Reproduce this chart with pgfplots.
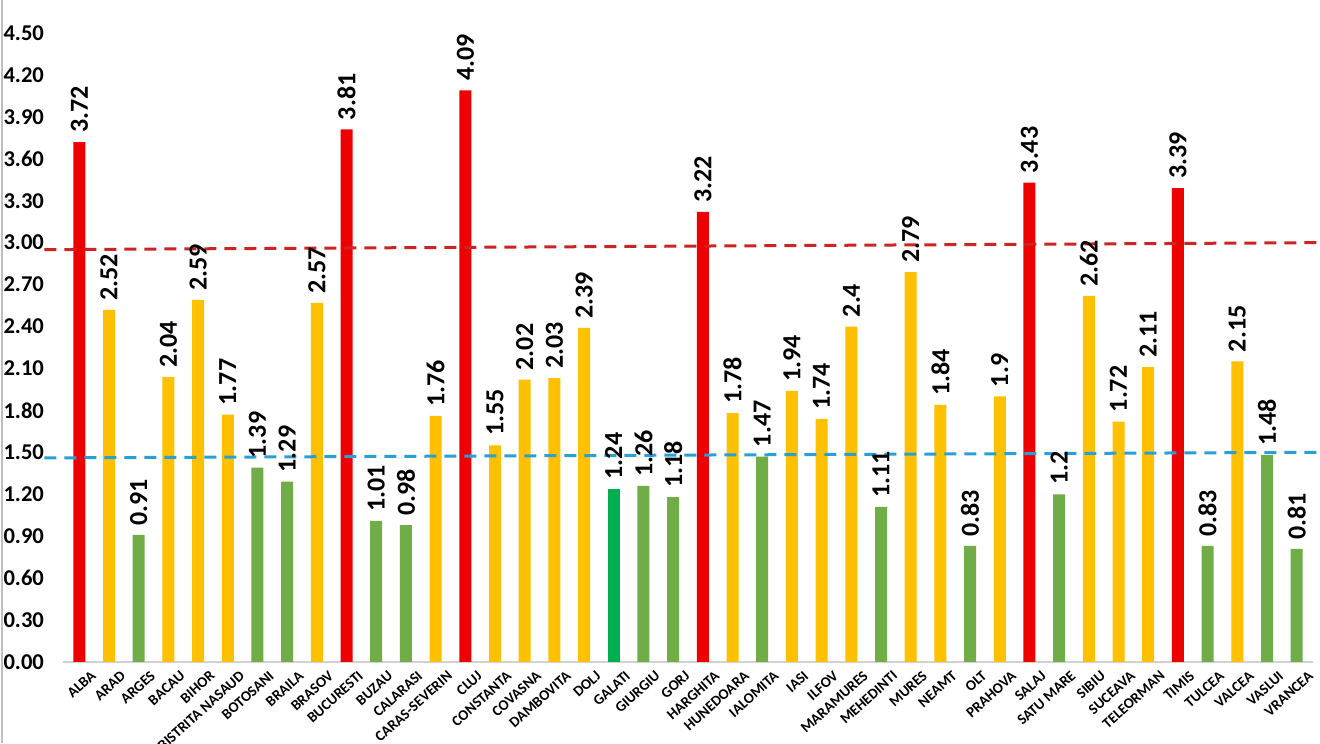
\documentclass[border=0pt]{standalone}
\usepackage{pgfplots}
\pgfplotsset{compat=1.18}
\usepackage{fontspec}
\setmainfont{Carlito}
\definecolor{cred}{RGB}{238,0,0}
\definecolor{cyel}{RGB}{255,192,0}
\definecolor{cgrn}{RGB}{112,173,71}
\definecolor{cdgrn}{RGB}{0,176,80}
\definecolor{dred}{RGB}{205,35,35}
\definecolor{dblue}{RGB}{40,160,215}
\begin{document}
\begin{tikzpicture}
\useasboundingbox (0,0) rectangle (660pt,371.5pt);
\clip (0,0) rectangle (660pt,371.5pt);
\fill[white] (0,0) rectangle (660pt,371.5pt);
\draw[gray!50, line width=0.6pt] (1pt,0) -- (1pt,371.5pt);
\begin{axis}[
  at={(31.5pt,40.5pt)}, anchor=south west,
  scale only axis, width=625pt, height=314.5pt,
  xmin=-0.55, xmax=41.55, ymin=0, ymax=4.5,
  clip=false,
  axis lines*=left,
  y axis line style={draw=none},
  x axis line style={draw=gray!35, line width=0.8pt, -},
  major tick length=0pt,
  ytick={0,0.3,...,4.51},
  /pgf/number format/.cd, fixed, fixed zerofill, precision=2, assume math mode=true, /pgfplots/.cd,
  yticklabel style={font=\bfseries\fontsize{11.3}{12}\selectfont, anchor=east, xshift=-6pt},
  xtick={0,...,41},
  xticklabels={ALBA,ARAD,ARGES,BACAU,BIHOR,BISTRITA NASAUD,BOTOSANI,BRAILA,BRASOV,BUCURESTI,BUZAU,CALARASI,CARAS-SEVERIN,CLUJ,CONSTANTA,COVASNA,DAMBOVITA,DOLJ,GALATI,GIURGIU,GORJ,HARGHITA,HUNEDOARA,IALOMITA,IASI,ILFOV,MARAMURES,MEHEDINTI,MURES,NEAMT,OLT,PRAHOVA,SALAJ,SATU MARE,SIBIU,SUCEAVA,TELEORMAN,TIMIS,TULCEA,VALCEA,VASLUI,VRANCEA},
  xticklabel style={font=\bfseries\fontsize{7.4}{8}\selectfont, rotate=42, anchor=north east, inner sep=0.5pt, xshift=2pt, yshift=-6pt},
  ybar, bar width=6pt, bar shift=0pt,
  nodes near coords={\pgfmathprintnumber[fixed, precision=2, fixed zerofill=false, assume math mode=true]{\pgfplotspointmeta}},
  every node near coord/.append style={font=\bfseries\fontsize{13}{14}\selectfont, rotate=90, anchor=west, inner sep=0pt, xshift=4.5pt},
]
\addplot[fill=cred, draw=none] coordinates {(0,3.72) (9,3.81) (13,4.09) (21,3.22) (32,3.43) (37,3.39)};
\addplot[fill=cyel, draw=none] coordinates {(1,2.52) (3,2.04) (4,2.59) (5,1.77) (8,2.57) (12,1.76) (14,1.55) (15,2.02) (16,2.03) (17,2.39) (22,1.78) (24,1.94) (25,1.74) (26,2.4) (28,2.79) (29,1.84) (31,1.9) (34,2.62) (35,1.72) (36,2.11) (39,2.15)};
\addplot[fill=cgrn, draw=none] coordinates {(2,0.91) (6,1.39) (7,1.29) (10,1.01) (11,0.98) (19,1.26) (20,1.18) (23,1.47) (27,1.11) (30,0.83) (33,1.2) (38,0.83) (40,1.48) (41,0.81)};
\addplot[fill=cdgrn, draw=none] coordinates {(18,1.24)};
\addplot[sharp plot, no marks, nodes near coords={}, dred, line width=1.5pt, dash pattern=on 6pt off 4pt] coordinates {(-1.18,2.95) (41.8,3.00)};
\addplot[sharp plot, no marks, nodes near coords={}, dblue, line width=1.5pt, dash pattern=on 6pt off 4pt] coordinates {(-1.18,1.46) (41.8,1.50)};
\end{axis}
\end{tikzpicture}
\end{document}
